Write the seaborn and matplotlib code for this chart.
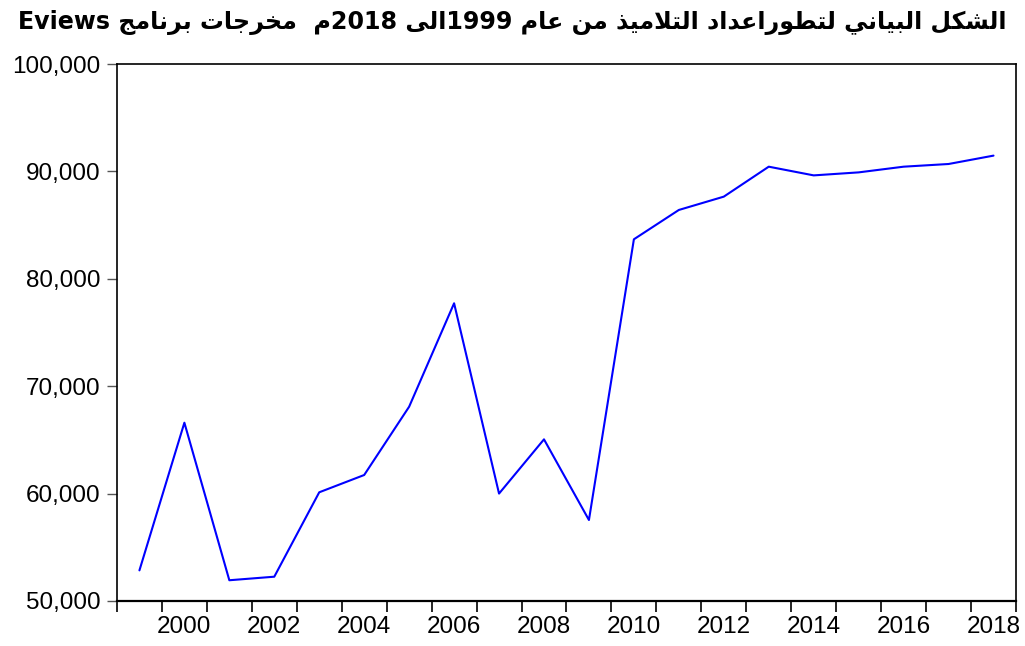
import re
import matplotlib
matplotlib.use("Agg")
import matplotlib.pyplot as plt
from matplotlib.ticker import FixedLocator, FuncFormatter, NullFormatter
import seaborn as sns

# data
years = list(range(1999, 2019))
pupils = [52850, 66600, 51930, 52260, 60120, 61730, 68090, 77720, 60000, 65050,
          57540, 83680, 86410, 87650, 90440, 89630, 89910, 90440, 90690, 91470]
even_years = list(range(2000, 2019, 2))

title = "الشكل البياني لتطوراعداد التلاميذ من عام 1999الى 2018م  مخرجات برنامج Eviews"

# small arabic shaper: (isolated, final, initial, medial); 2-tuple = right-joining only
FORMS = {
    "ا": (0xFE8D, 0xFE8E), "د": (0xFEA9, 0xFEAA), "ذ": (0xFEAB, 0xFEAC),
    "ر": (0xFEAD, 0xFEAE), "و": (0xFEED, 0xFEEE), "ى": (0xFEEF, 0xFEF0),
    "ب": (0xFE8F, 0xFE90, 0xFE91, 0xFE92), "ت": (0xFE95, 0xFE96, 0xFE97, 0xFE98),
    "ج": (0xFE9D, 0xFE9E, 0xFE9F, 0xFEA0), "خ": (0xFEA5, 0xFEA6, 0xFEA7, 0xFEA8),
    "ش": (0xFEB5, 0xFEB6, 0xFEB7, 0xFEB8), "ط": (0xFEC1, 0xFEC2, 0xFEC3, 0xFEC4),
    "ع": (0xFEC9, 0xFECA, 0xFECB, 0xFECC), "ك": (0xFED9, 0xFEDA, 0xFEDB, 0xFEDC),
    "ل": (0xFEDD, 0xFEDE, 0xFEDF, 0xFEE0), "م": (0xFEE1, 0xFEE2, 0xFEE3, 0xFEE4),
    "ن": (0xFEE5, 0xFEE6, 0xFEE7, 0xFEE8), "ي": (0xFEF1, 0xFEF2, 0xFEF3, 0xFEF4),
}


def shape(text):
    out = []
    i = 0
    n = len(text)
    while i < n:
        c = text[i]
        if c not in FORMS:
            out.append(c)
            i += 1
            continue
        prev = text[i - 1] if i > 0 else ""
        joins_prev = prev in FORMS and len(FORMS[prev]) == 4
        if c == "ل" and i + 1 < n and text[i + 1] == "ا":
            out.append(chr(0xFEFC if joins_prev else 0xFEFB))
            i += 2
            continue
        nxt = text[i + 1] if i + 1 < n else ""
        joins_next = len(FORMS[c]) == 4 and nxt in FORMS
        f = FORMS[c]
        if joins_prev and joins_next:
            g = f[3]
        elif joins_prev:
            g = f[1]
        elif joins_next:
            g = f[2]
        else:
            g = f[0]
        out.append(chr(g))
        i += 1
    # right-to-left display: reverse, keeping latin/digit runs intact
    segs = re.findall(r"[A-Za-z0-9]+|.", "".join(out))
    return "".join(reversed(segs))


sns.set_style("ticks")
plt.rcParams["font.family"] = ["Liberation Sans", "DejaVu Sans"]
plt.rcParams["text.color"] = "black"

fig = plt.figure(figsize=(10.25, 6.46), dpi=100)
ax = fig.add_axes([0.1141, 0.0697, 0.8771, 0.8312])

sns.lineplot(x=years, y=pupils, color="#0000FF", linewidth=1.5, ax=ax)

ax.set_xlim(1998.5, 2018.5)
ax.set_ylim(50000, 100000)
ax.set_yticks([50000, 60000, 70000, 80000, 90000, 100000])
ax.yaxis.set_major_formatter(FuncFormatter(lambda v, p: f"{int(v):,}"))

# year boundaries as ticks, labels centred on the even years
ax.xaxis.set_major_locator(FixedLocator([y - 0.5 for y in years] + [2018.5]))
ax.xaxis.set_major_formatter(NullFormatter())
ax.xaxis.set_minor_locator(FixedLocator(even_years))
ax.xaxis.set_minor_formatter(FuncFormatter(lambda v, p: str(int(round(v)))))
ax.tick_params(axis="x", which="major", length=8, width=1.2, color="black")
ax.tick_params(axis="x", which="minor", length=0, pad=11, labelsize=17.5,
               labelcolor="black")
ax.tick_params(axis="y", length=7, width=1.0, color="#555555", pad=5,
               labelsize=17.5, labelcolor="black")

for s in ax.spines.values():
    s.set_visible(True)
    s.set_color("black")
    s.set_linewidth(1.2)
ax.spines["bottom"].set_linewidth(1.6)

ax.set_xlabel("")
ax.set_ylabel("")

fig.text(0.5, 0.985, shape(title), ha="center", va="top", fontsize=17.1,
         fontweight="bold", color="black", family=["DejaVu Sans"])

plt.savefig("out.png", dpi=100)
